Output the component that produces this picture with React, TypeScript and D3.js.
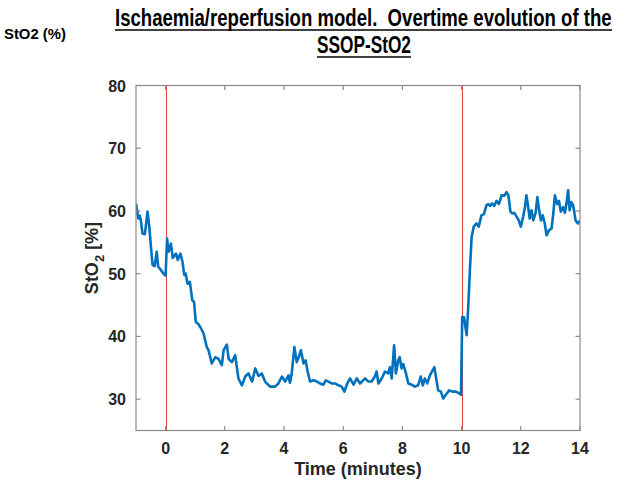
import React, { useLayoutEffect, useRef, useState } from "react";
import * as d3 from "d3";

const times = [
  -1.0, -0.92, -0.87, -0.83, -0.78, -0.7, -0.61, -0.55, -0.49, -0.44, -0.37, -0.3, -0.25, -0.16, -0.07,
  0.0, 0.05, 0.1, 0.18, 0.24, 0.3, 0.35, 0.41, 0.5, 0.57, 0.63, 0.68, 0.74, 0.82, 0.9, 0.96,
  1.02, 1.1, 1.17, 1.28, 1.39, 1.45, 1.56, 1.68, 1.79, 1.9, 1.96, 2.07, 2.13, 2.24, 2.35, 2.46,
  2.58, 2.69, 2.8, 2.92, 3.03, 3.14, 3.25, 3.36, 3.53, 3.7, 3.81, 3.93, 4.04, 4.15, 4.2, 4.26,
  4.35, 4.43, 4.5, 4.57, 4.66, 4.73, 4.79, 4.88, 5.0, 5.11, 5.22, 5.33, 5.41, 5.5, 5.61, 5.73,
  5.84, 5.95, 6.04, 6.12, 6.23, 6.35, 6.46, 6.57, 6.74, 6.85, 6.96, 7.07, 7.13, 7.19, 7.3, 7.41,
  7.52, 7.58, 7.64, 7.72, 7.78, 7.86, 7.91, 7.97, 8.03, 8.12, 8.2, 8.31, 8.42, 8.53, 8.62, 8.69,
  8.76, 8.84, 8.93, 9.02, 9.08, 9.13, 9.21, 9.3, 9.38, 9.47, 9.58, 9.69, 9.81, 9.92, 9.98,
  10.02, 10.08, 10.17, 10.22, 10.28, 10.34, 10.41, 10.5, 10.58, 10.67, 10.75, 10.84, 10.9, 10.96,
  11.03, 11.1, 11.18, 11.26, 11.35, 11.44, 11.52, 11.58, 11.65, 11.71, 11.78, 11.86, 11.93, 12.0,
  12.08, 12.14, 12.19, 12.25, 12.3, 12.36, 12.42, 12.5, 12.56, 12.62, 12.68, 12.74, 12.81, 12.87,
  12.95, 13.04, 13.1, 13.15, 13.23, 13.29, 13.35, 13.43, 13.49, 13.54, 13.6, 13.65, 13.71, 13.77,
  13.85, 13.93, 14.0,
];

const sto2 = [
  61.2, 58.8, 59.2, 58.3, 56.4, 56.3, 59.9, 57.5, 54.0, 51.4, 51.2, 53.5, 51.1, 50.6, 50.0,
  49.7, 55.6, 53.5, 54.8, 52.5, 52.9, 53.2, 52.2, 53.2, 51.9, 49.8, 50.0, 48.4, 48.7, 45.8, 45.5,
  42.3, 42.0, 41.5, 40.5, 38.3, 37.8, 35.7, 36.7, 36.4, 35.4, 37.8, 38.7, 36.4, 35.9, 37.0, 33.3,
  32.2, 33.6, 34.1, 32.8, 34.9, 33.7, 34.1, 32.8, 32.0, 32.0, 32.5, 33.6, 32.8, 33.8, 32.6, 34.1,
  38.3, 35.9, 36.7, 37.8, 35.7, 36.2, 34.6, 32.8, 33.0, 32.8, 32.5, 32.3, 33.0, 32.8, 32.5, 32.5,
  32.2, 32.0, 31.2, 32.3, 33.3, 32.3, 33.3, 32.5, 33.3, 32.8, 32.8, 33.6, 34.4, 32.5, 33.3, 34.4,
  34.1, 35.1, 33.3, 38.6, 34.1, 36.2, 36.7, 34.9, 35.6, 34.1, 32.5, 32.3, 32.0, 32.2, 33.6, 32.2,
  33.3, 32.5, 33.8, 34.6, 35.1, 33.6, 31.4, 31.2, 30.1, 30.7, 31.4, 31.2, 31.2, 30.9, 30.7,
  43.1, 43.1, 40.2, 44.2, 50.6, 55.9, 57.5, 58.0, 57.5, 59.3, 59.5, 60.9, 61.1, 60.8,
  61.2, 60.8, 61.6, 61.1, 62.5, 62.4, 63.0, 62.5, 59.9, 59.6, 59.7, 59.1, 58.5, 57.5,
  59.1, 60.6, 62.5, 60.6, 58.8, 60.1, 58.5, 59.7, 62.2, 60.1, 58.5, 59.3, 58.0, 56.1,
  56.9, 57.2, 59.7, 62.5, 61.1, 61.6, 59.9, 60.6, 59.7, 61.1, 63.3, 60.1, 61.4, 60.9,
  58.5, 58.0, 58.5,
];

const markerTimes = [0, 10];
const xTicks = [0, 2, 4, 6, 8, 10, 12, 14];
const yTicks = [30, 40, 50, 60, 70, 80];
const titleLine1 = "Ischaemia/reperfusion model.  Overtime evolution of the";
const titleLine2 = "SSOP-StO2";
const sideLabel = "StO2 (%)";
const xLabel = "Time (minutes)";

const titleFont = "'Liberation Sans Narrow', 'Arial Narrow', 'Liberation Sans', sans-serif";

function FitText(props: { x: number; y: number; width: number; size: number; children: string }) {
  const ref = useRef<SVGTextElement>(null);
  const [s, setS] = useState(1);
  useLayoutEffect(() => {
    if (ref.current) {
      const len = ref.current.getComputedTextLength();
      if (len > 0) setS(props.width / len);
    }
  }, [props.width, props.children]);
  return (
    <text ref={ref} transform={`translate(${props.x},${props.y}) scale(${s},1)`} fontFamily={titleFont}
      fontWeight="bold" fontSize={props.size} fill="#000" style={{ whiteSpace: "pre" }}>
      {props.children}
    </text>
  );
}

export default function App() {
  const W = 639, H = 485;
  const L = 136, R = 580, T = 85.5, B = 430.5;
  const x = d3.scaleLinear().domain([-1, 14]).range([L, R]);
  const y = d3.scaleLinear().domain([25, 80]).range([B, T]);
  const pts: [number, number][] = times.map((t, i) => [t, sto2[i]]);
  const line = d3.line<[number, number]>().x(d => x(d[0])).y(d => y(d[1]));
  const axisColor = "#8a8a8a";
  const textColor = "#262626";
  const tickFont = "'Liberation Sans', Arial, Helvetica, sans-serif";
  const tl = 4.5;
  return (
    <svg width={W} height={H} style={{ position: "absolute", left: 0, top: 0, background: "#fff" }}>
      <rect x={0} y={0} width={W} height={H} fill="#fff" />
      {/* titles */}
      <FitText x={115} y={26} width={497} size={24}>{titleLine1}</FitText>
      <line x1={115} x2={612} y1={30} y2={30} stroke="#000" strokeWidth={1.6} />
      <FitText x={317} y={53} width={94} size={24}>{titleLine2}</FitText>
      <line x1={317} x2={411} y1={57} y2={57} stroke="#000" strokeWidth={1.6} />
      <FitText x={4} y={39} width={62} size={15}>{sideLabel}</FitText>

      {/* plot line */}
      <clipPath id="clip"><rect x={L} y={T} width={R - L} height={B - T} /></clipPath>
      <g clipPath="url(#clip)">
        {markerTimes.map(t => {
          const px = Math.round(x(t)) + 0.5;
          return <line key={t} x1={px} x2={px} y1={T} y2={B} stroke="#e8473f" strokeWidth={1} />;
        })}
        <path d={line(pts) || ""} fill="none" stroke="#0072BD" strokeWidth={2.6} strokeLinejoin="round" />
      </g>

      {/* box */}
      <rect x={L} y={T} width={R - L} height={B - T} fill="none" stroke={axisColor} strokeWidth={1.2} />
      {xTicks.map(t => (
        <g key={"x" + t}>
          <line x1={x(t)} x2={x(t)} y1={B} y2={B - tl} stroke={axisColor} strokeWidth={1.2} />
          <line x1={x(t)} x2={x(t)} y1={T} y2={T + tl} stroke={axisColor} strokeWidth={1.2} />
          <text x={x(t)} y={454} textAnchor="middle" fontFamily={tickFont} fontWeight="bold"
            fontSize={16} fill={textColor}>{t}</text>
        </g>
      ))}
      {yTicks.map(v => (
        <g key={"y" + v}>
          <line x1={L} x2={L + tl} y1={y(v)} y2={y(v)} stroke={axisColor} strokeWidth={1.2} />
          <line x1={R} x2={R - tl} y1={y(v)} y2={y(v)} stroke={axisColor} strokeWidth={1.2} />
          <text x={L - 10} y={y(v) + 6} textAnchor="end" fontFamily={tickFont} fontWeight="bold"
            fontSize={16} fill={textColor}>{v}</text>
        </g>
      ))}
      <text x={358} y={475} textAnchor="middle" fontFamily={tickFont} fontWeight="bold"
        fontSize={18} fill={textColor}>{xLabel}</text>
      <text transform={`translate(98,258) rotate(-90)`} textAnchor="middle" fontFamily={tickFont}
        fontWeight="bold" fontSize={18} fill={textColor}>
        StO<tspan dy={6} fontSize={13}>2</tspan><tspan dy={-6}> [%]</tspan>
      </text>
    </svg>
  );
}
